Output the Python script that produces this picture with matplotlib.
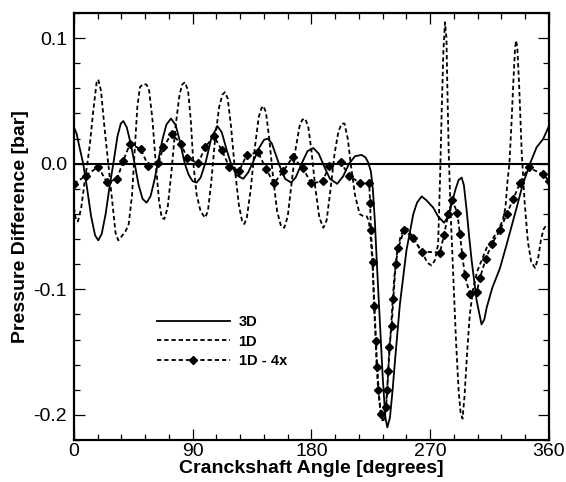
import matplotlib
matplotlib.use("Agg")
import matplotlib.pyplot as plt
from matplotlib.ticker import MultipleLocator, FormatStrFormatter

# values (angle in degrees, pressure difference in bar)
ang_3d = [0, 2, 4, 7, 10, 13, 16, 18.4, 21, 24, 27, 29.8, 33, 35.5, 37.4, 40, 43, 46, 49, 52,
          55, 58, 61, 64, 67, 70, 73.5, 77, 80, 84, 87, 90, 93, 96, 100, 104, 108.7, 112, 116, 119,
          123, 128.3, 132, 136, 140, 144, 147, 150, 153, 156, 160, 164.5, 168, 172.5, 177, 181.4,
          185.5, 190, 194, 199.5, 204, 208.5, 213, 218, 221, 223, 225, 226.5, 228, 229.5, 231.4,
          234, 236, 237.5, 239.5, 241.5, 243.3, 247, 252, 257.2, 260, 263.5, 267, 272.3, 276,
          280.5, 283, 286, 289, 291.5, 293.8, 295.5, 297.6, 299.5, 301.4, 305.2, 308.9, 311,
          312.8, 317, 322.9, 328, 335.5, 340, 345.6, 350.6, 355.6, 360]
p_3d = [0.029, 0.024, 0.014, 0.0, -0.02, -0.042, -0.057, -0.061, -0.056, -0.04, -0.018, 0.0,
        0.022, 0.032, 0.034, 0.029, 0.016, 0.0, -0.017, -0.028, -0.031, -0.026, -0.013, 0.003,
        0.019, 0.031, 0.036, 0.031, 0.019, 0.0, -0.009, -0.014, -0.015, -0.011, 0.002, 0.02,
        0.030, 0.025, 0.01, 0.0, -0.009, -0.012, -0.007, 0.002, 0.012, 0.019, 0.020, 0.016,
        0.007, -0.002, -0.012, -0.015, -0.011, 0.0, 0.01, 0.0125, 0.008, -0.003, -0.012, -0.016,
        -0.01, 0.0, 0.006, 0.007, 0.005, 0.001, -0.006, -0.02, -0.045, -0.078, -0.117, -0.170,
        -0.202, -0.210, -0.202, -0.18, -0.157, -0.112, -0.069, -0.040, -0.031, -0.026, -0.029,
        -0.035, -0.042, -0.047, -0.043, -0.033, -0.021, -0.013, -0.011, -0.017, -0.037, -0.058,
        -0.077, -0.109, -0.128, -0.124, -0.1145, -0.099, -0.083, -0.064, -0.035, -0.017, 0.0,
        0.013, 0.0197, 0.030]

ang_1d = [0, 1.5, 3, 5.5, 8, 10.5, 12.1, 14.6, 17.2, 18.4, 20.5, 23, 26, 29, 31.5, 33.6, 36, 39,
          41.5, 44, 46, 48, 50, 52.5, 55, 57, 59.5, 62, 64.5, 66.5, 68.5, 71, 74, 77, 80, 82, 84.1,
          86.5, 88.5, 90.5, 93, 96, 99.3, 101.5, 104, 107, 110, 112.5, 114.4, 116.5, 119, 122, 125,
          127.3, 129.1, 131, 134, 137, 140, 142, 143.5, 145.5, 148, 151, 154, 157, 159.4, 162, 165,
          168, 171, 173, 175.1, 177.5, 180, 183, 186, 189, 191.5, 194.5, 197.5, 200.5, 203, 205,
          207.5, 210, 213, 216.5, 219.5, 222, 223.5, 225, 226.5, 228, 229.5, 231, 232.5, 234.2,
          235.8, 237, 238.5, 240, 241.5, 243, 245, 247.5, 250.5, 253, 257, 261, 264.5, 268, 271,
          273.5, 276, 277.5, 278.7, 280, 281.2, 282.3, 283, 284, 285.5, 287.5, 289.5, 291.5, 293,
          294.5, 296, 298, 300, 302.5, 305.5, 309, 312.8, 317.8, 322, 325, 327, 328.5, 330, 331.5,
          333, 334.2, 335, 336, 337.5, 339.3, 341.5, 344, 346.5, 349.5, 352, 354, 356, 358, 360]
p_1d = [-0.035, -0.045, -0.046, -0.035, -0.015, 0.003, 0.016, 0.042, 0.065, 0.067, 0.058, 0.03,
        0.0, -0.03, -0.055, -0.061, -0.058, -0.054, -0.048, -0.025, 0.01, 0.045, 0.061, 0.0635,
        0.063, 0.058, 0.035, 0.0, -0.03, -0.043, -0.044, -0.035, -0.005, 0.03, 0.055, 0.063,
        0.065, 0.058, 0.035, 0.0, -0.025, -0.038, -0.043, -0.038, -0.015, 0.02, 0.045, 0.055,
        0.057, 0.052, 0.03, -0.005, -0.033, -0.045, -0.048, -0.043, -0.02, 0.012, 0.037, 0.044,
        0.046, 0.041, 0.02, -0.012, -0.038, -0.05, -0.051, -0.042, -0.015, 0.012, 0.03, 0.035,
        0.036, 0.03, 0.01, -0.02, -0.043, -0.051, -0.045, -0.02, 0.008, 0.026, 0.032, 0.032,
        0.02, -0.002, -0.025, -0.04, -0.042, -0.042, -0.046, -0.06, -0.085, -0.12, -0.155,
        -0.182, -0.198, -0.206, -0.200, -0.185, -0.16, -0.135, -0.11, -0.088, -0.07, -0.058,
        -0.051, -0.052, -0.059, -0.066, -0.072, -0.079, -0.081, -0.077, -0.064, -0.01, 0.042,
        0.09, 0.1126, 0.1, 0.06, 0.01, -0.04, -0.09, -0.14, -0.18, -0.198, -0.203, -0.185,
        -0.15, -0.12, -0.1, -0.086, -0.077, -0.067, -0.059, -0.052, -0.045, -0.035, -0.015,
        0.0, 0.03, 0.065, 0.09, 0.098, 0.093, 0.06, 0.01, -0.03, -0.062, -0.078, -0.083, -0.074,
        -0.06, -0.052, -0.049, -0.049]

ang_4x = [0, 8.8, 18.4, 24.8, 32.6, 37.4, 42.4, 50.5, 56.3, 63.9, 67.7, 74, 80.9, 85.9, 94.2,
          99.3, 106.1, 111.9, 117.7, 125.3, 130.9, 139.6, 145.5, 151.6, 158.6, 165.7, 173.5,
          179.8, 188.5, 193.5, 202.1, 208.7, 217, 223.8, 224.4, 225.1, 226.4, 227.4, 228.7, 229.4,
          230.6, 232.4, 236.5, 237.5, 238.2, 239, 240.8, 242, 243.8, 245.8, 250.1, 257.2, 263.5,
          277.4, 280.4, 283.7, 286.7, 290.5, 292.5, 294.3, 296.3, 300, 305.2, 307.7, 312, 316.6,
          322.9, 328, 333, 338.1, 344.5, 355.5, 360]
p_4x = [-0.016, -0.0096, -0.0024, -0.0145, -0.0125, 0.0024, 0.0157, 0.0117, -0.0016, 0.0003,
        0.013, 0.024, 0.016, 0.0045, 0.0003, 0.013, 0.022, 0.011, -0.0024, -0.0056, 0.007, 0.009,
        -0.004, -0.0157, -0.006, 0.0053, -0.0035, -0.0157, -0.014, -0.0016, 0.001, -0.0096,
        -0.0157, -0.0157, -0.031, -0.053, -0.078, -0.113, -0.141, -0.162, -0.180, -0.199,
        -0.194, -0.180, -0.165, -0.146, -0.129, -0.108, -0.080, -0.067, -0.053, -0.059, -0.070,
        -0.0707, -0.057, -0.040, -0.029, -0.039, -0.056, -0.073, -0.089, -0.104, -0.1025,
        -0.091, -0.076, -0.064, -0.053, -0.040, -0.028, -0.015, -0.003, -0.0085, -0.0135]

x_ticks = [0, 90, 180, 270, 360]

plt.rcParams['font.family'] = ['Liberation Sans', 'DejaVu Sans']
plt.rcParams['axes.unicode_minus'] = False

fig = plt.figure(figsize=(5.66, 4.82), dpi=100)
ax = fig.add_axes([0.1307, 0.0871, 0.8392, 0.8859])

ax.axhline(0, color='black', lw=1.5, zorder=1)
ax.plot(ang_3d, p_3d, color='black', lw=1.3, label='3D', zorder=3)
ax.plot(ang_1d, p_1d, color='black', lw=1.3, dashes=(2.4, 1.6), label='1D', zorder=3)
ax.plot(ang_4x, p_4x, color='black', lw=1.3, dashes=(2.4, 1.6), marker='D', markersize=4,
        label='1D - 4x', zorder=4)

ax.set_xlim(0, 360)
ax.set_ylim(-0.22, 0.12)
ax.set_xticks(x_ticks)
ax.xaxis.set_minor_locator(MultipleLocator(18))
ax.yaxis.set_major_locator(MultipleLocator(0.1))
ax.yaxis.set_minor_locator(MultipleLocator(0.02))
ax.yaxis.set_major_formatter(FormatStrFormatter('%.1f'))

ax.tick_params(which='both', direction='in', top=True, right=True, labelsize=14, width=0.9)
ax.tick_params(which='major', length=8)
ax.tick_params(which='minor', length=4.5)
ax.tick_params(axis='x', which='major', pad=2.5)
ax.tick_params(axis='y', which='major', pad=5)
for s in ax.spines.values():
    s.set_linewidth(1.6)

ax.set_xlabel('Cranckshaft Angle [degrees]', fontsize=14, fontweight='bold', labelpad=0)
ax.set_ylabel('Pressure Difference [bar]', fontsize=14, fontweight='bold', labelpad=3)

leg = ax.legend(loc='center left', bbox_to_anchor=(0.1747, 0.2305), frameon=False,
                borderpad=0, borderaxespad=0, handlelength=5, handletextpad=0.6,
                labelspacing=0.35, prop={'size': 10.5, 'weight': 'bold'})

fig.savefig('out.png', dpi=100)
